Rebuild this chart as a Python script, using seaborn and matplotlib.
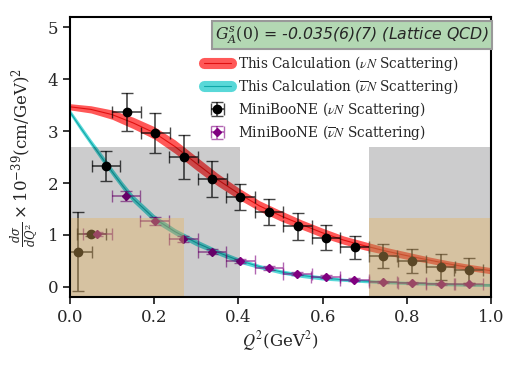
import matplotlib
matplotlib.use("Agg")
import matplotlib.pyplot as plt
from matplotlib.lines import Line2D
from matplotlib.patches import Rectangle
from matplotlib.font_manager import FontProperties
import seaborn as sns
import pandas as pd

# theory bands (nu N and nubar N), center and half width
band_x_nu = [0.0, 0.05, 0.1, 0.15, 0.2, 0.25, 0.3, 0.35, 0.4, 0.45, 0.5,
             0.55, 0.6, 0.65, 0.7, 0.75, 0.8, 0.85, 0.9, 0.95, 1.0]
band_c_nu = [3.47, 3.42, 3.32, 3.16, 2.97, 2.70, 2.38, 2.07, 1.80, 1.56, 1.37,
             1.20, 1.04, 0.90, 0.79, 0.69, 0.60, 0.52, 0.44, 0.37, 0.31]
band_w_nu = [0.06, 0.07, 0.09, 0.11, 0.12, 0.13, 0.13, 0.12, 0.11, 0.10, 0.10,
             0.09, 0.09, 0.08, 0.08, 0.07, 0.07, 0.06, 0.06, 0.06, 0.06]

band_x_nub = [0.0, 0.025, 0.05, 0.075, 0.1, 0.125, 0.15, 0.2, 0.25, 0.3, 0.35,
              0.4, 0.45, 0.5, 0.55, 0.6, 0.65, 0.7, 0.75, 0.8, 0.85, 0.9, 0.95, 1.0]
band_c_nub = [3.37, 3.07, 2.78, 2.50, 2.22, 1.95, 1.70, 1.32, 1.06, 0.85, 0.67,
              0.51, 0.39, 0.29, 0.22, 0.17, 0.135, 0.11, 0.09, 0.075, 0.06, 0.05, 0.04, 0.035]
band_w_nub = [0.05, 0.06, 0.06, 0.07, 0.07, 0.07, 0.07, 0.07, 0.06, 0.06, 0.05,
              0.05, 0.04, 0.04, 0.04, 0.04, 0.03, 0.03, 0.03, 0.03, 0.03, 0.03, 0.03, 0.03]

# MiniBooNE data
x_nu = [0.018, 0.051, 0.0855, 0.135, 0.203, 0.270, 0.338, 0.405, 0.473, 0.541,
        0.608, 0.676, 0.743, 0.812, 0.880, 0.947]
y_nu = [0.68, 1.01, 2.33, 3.37, 2.96, 2.50, 2.08, 1.74, 1.44, 1.17,
        0.95, 0.76, 0.60, 0.49, 0.385, 0.32]
yerr_nu = [0.76, 0.03, 0.29, 0.37, 0.39, 0.42, 0.35, 0.25, 0.25, 0.26,
           0.24, 0.22, 0.23, 0.23, 0.25, 0.24]

x_nub = [0.065, 0.133, 0.201, 0.269, 0.337, 0.405, 0.473, 0.540, 0.607,
         0.675, 0.743, 0.812, 0.880, 0.947]
y_nub = [1.01, 1.75, 1.27, 0.92, 0.68, 0.49, 0.36, 0.25, 0.19,
         0.135, 0.10, 0.08, 0.06, 0.045]
yerr_nub = [0.04, 0.09, 0.08, 0.06, 0.05, 0.04, 0.04, 0.03, 0.03,
            0.03, 0.02, 0.02, 0.02, 0.02]
xerr = 0.034

# shaded boxes: (x0, x1, ytop)
grey_boxes = [(0.0, 0.404, 2.69), (0.710, 1.0, 2.69)]
tan_boxes = [(0.0, 0.271, 1.32), (0.710, 1.0, 1.32)]

sns.set_style("ticks")
plt.rcParams["font.family"] = ["DejaVu Serif"]
plt.rcParams["mathtext.fontset"] = "dejavuserif"

fig = plt.figure(figsize=(5.18, 3.71), dpi=100)
ax = fig.add_axes([0.135, 0.199, 0.813, 0.755])

red = "#ff2020"
cyan = "#22cccc"

df_nu = pd.DataFrame({"x": band_x_nu, "c": band_c_nu, "w": band_w_nu})
df_nub = pd.DataFrame({"x": band_x_nub, "c": band_c_nub, "w": band_w_nub})

ax.fill_between(df_nu.x, df_nu.c - df_nu.w, df_nu.c + df_nu.w, color=red, alpha=0.75, lw=0, zorder=2)
sns.lineplot(data=df_nu, x="x", y="c", color="#e01010", lw=0.8, ax=ax, zorder=2.1)
ax.fill_between(df_nub.x, df_nub.c - df_nub.w, df_nub.c + df_nub.w, color=cyan, alpha=0.75, lw=0, zorder=2)
sns.lineplot(data=df_nub, x="x", y="c", color="#10a8a8", lw=0.8, ax=ax, zorder=2.1)

eb_nu = ax.errorbar(x_nu, y_nu, xerr=xerr, yerr=yerr_nu, fmt="o", color="black", ms=6,
                    ecolor=(0, 0, 0, 0.72), capsize=4, elinewidth=1.2, zorder=3)
eb_nub = ax.errorbar(x_nub, y_nub, xerr=xerr, yerr=yerr_nub, fmt="D", color="#800080", ms=4.5,
                     ecolor=(0.5, 0, 0.5, 0.6), capsize=4, elinewidth=1.2, zorder=3)

# overlay boxes drawn on top, semi transparent
ymin = -0.2
for x0, x1, yt in grey_boxes:
    ax.add_patch(Rectangle((x0, ymin), x1 - x0, yt - ymin, facecolor=(0.0, 0.01, 0.03),
                           alpha=0.2, lw=0, zorder=4))
for x0, x1, yt in tan_boxes:
    ax.add_patch(Rectangle((x0, ymin), x1 - x0, yt - ymin, facecolor=(0.9, 0.7, 0.375),
                           alpha=0.4, lw=0, zorder=4.5))

ax.set_xlim(0, 1.0)
ax.set_ylim(ymin, 5.2)
ax.set_xticks([0.0, 0.2, 0.4, 0.6, 0.8, 1.0])
ax.set_yticks([0, 1, 2, 3, 4, 5])
ax.tick_params(labelsize=12, width=1.3, length=5)
for s in ax.spines.values():
    s.set_linewidth(1.5)
    s.set_color("black")
    s.set_zorder(6)

ax.set_xlabel(r"$Q^2$(GeV$^2$)", fontsize=12, labelpad=2, math_fontfamily="stix")
ax.set_ylabel(r"$\frac{d\sigma}{dQ^2}\times 10^{-39}(\mathrm{cm/GeV})^2$", fontsize=12, labelpad=5)

ax.text(0.995, 0.975, r"$G_A^s(0)$ = -0.035(6)(7) (Lattice QCD)", transform=ax.transAxes,
        ha="right", va="top", fontsize=11.3, family="DejaVu Sans", style="italic", zorder=7,
        bbox=dict(boxstyle="square,pad=0.2", facecolor="#b3d8b3", edgecolor="#999999", lw=1.5))

h_nu = (Line2D([], [], color=red, lw=8, alpha=0.75), Line2D([], [], color="#e01010", lw=0.8))
h_nub = (Line2D([], [], color=cyan, lw=8, alpha=0.75), Line2D([], [], color="#10a8a8", lw=0.8))
leg_font = FontProperties(family="DejaVu Serif", size=9.8, math_fontfamily="stix")
leg = ax.legend([h_nu, h_nub, eb_nu, eb_nub],
                [r"This Calculation ($\nu N$ Scattering)",
                 r"This Calculation ($\overline{\nu} N$ Scattering)",
                 r"MiniBooNE ($\nu N$ Scattering)",
                 r"MiniBooNE ($\overline{\nu} N$ Scattering)"],
                loc="upper left", bbox_to_anchor=(0.305, 0.888), borderaxespad=0, frameon=False,
                prop=leg_font, handlelength=2.0, handletextpad=0.5, labelspacing=0.3)
leg.set_zorder(7)

plt.savefig("out.png", dpi=100)
